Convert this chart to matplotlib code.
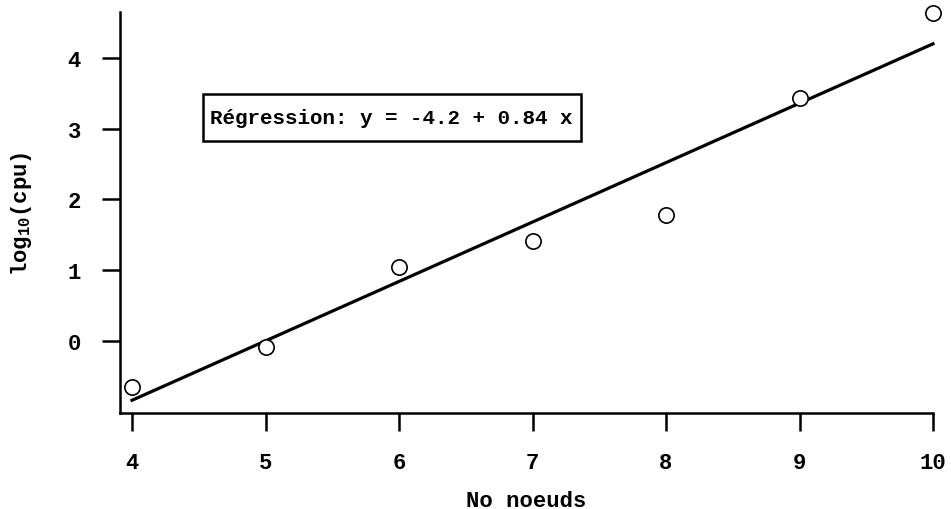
import matplotlib
matplotlib.use("Agg")
import matplotlib.pyplot as plt
from matplotlib.patches import Rectangle
import numpy as np

# nombre de noeuds vs log10 du temps cpu
nodes = [4, 5, 6, 7, 8, 9, 10]
log_cpu = [-0.65, -0.08, 1.05, 1.41, 1.78, 3.43, 4.64]
# droite de regression (valeurs du cartouche)
intercept = -4.2
slope = 0.84
xticks = [4, 5, 6, 7, 8, 9, 10]
yticks = [0, 1, 2, 3, 4]

plt.rcParams['font.family'] = ['Liberation Mono', 'DejaVu Sans Mono']
plt.rcParams['font.weight'] = 'bold'
plt.rcParams['mathtext.fontset'] = 'custom'
plt.rcParams['mathtext.rm'] = 'Liberation Mono:bold'
plt.rcParams['mathtext.it'] = 'Liberation Mono:bold'
plt.rcParams['mathtext.bf'] = 'Liberation Mono:bold'

fig = plt.figure(figsize=(9.51, 5.10), dpi=100)
ax = fig.add_axes([120/951, 1 - 414/510, (933-120)/951, (414-13)/510])

xs = np.array([nodes[0], nodes[-1]])
ax.plot(xs, intercept + slope*xs, color='k', linewidth=2.3, clip_on=False)
ax.plot(nodes, log_cpu, 'o', markersize=11, markerfacecolor='white',
        markeredgecolor='k', markeredgewidth=1.2, clip_on=False, zorder=3)

ax.set_xlim(3.91, 10.0)
ax.set_ylim(-1.02, 4.65)
ax.set_xticks(xticks)
ax.set_yticks(yticks)
ax.tick_params(direction='out', length=13, width=1.8, labelsize=16, pad=15)
for lab in ax.get_xticklabels() + ax.get_yticklabels():
    lab.set_fontweight('bold')

for s in ['top', 'right']:
    ax.spines[s].set_visible(False)
for s in ['left', 'bottom']:
    ax.spines[s].set_linewidth(1.8)

ax.set_xlabel('No noeuds', fontsize=16, fontweight='bold', labelpad=12)
ax.set_ylabel(r'log$_{10}$(cpu)', fontsize=16, fontweight='bold', labelpad=24)

# cartouche
ax.add_patch(Rectangle((4.53, 2.83), 2.83, 0.66, facecolor='white',
                       edgecolor='k', linewidth=1.8, zorder=2))
ax.text(5.945, 3.16, 'Régression: y = -4.2 + 0.84 x', fontsize=15, fontweight='bold',
        ha='center', va='center', zorder=4)

fig.savefig('out.png', dpi=100)
